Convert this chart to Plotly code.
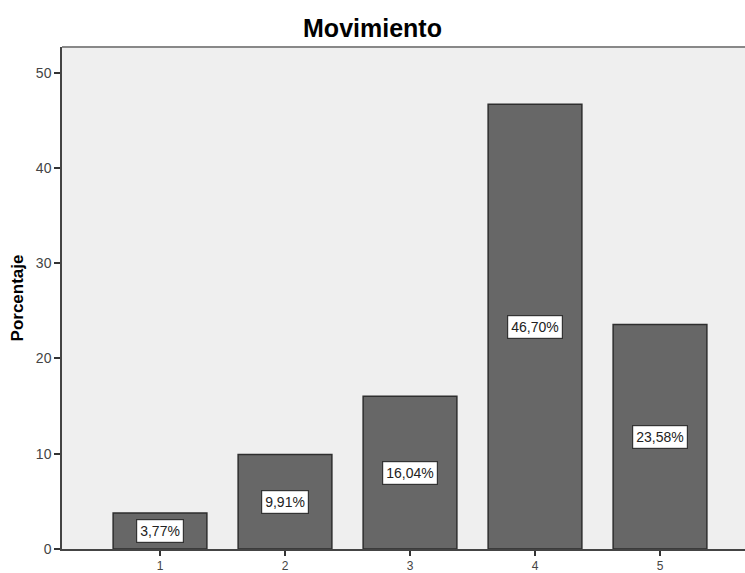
import plotly.graph_objects as go

categories = [1, 2, 3, 4, 5]
percentages = [3.77, 9.91, 16.04, 46.70, 23.58]
y_ticks = [0, 10, 20, 30, 40, 50]

labels = [f"{v:.2f}%".replace(".", ",") for v in percentages]

fig = go.Figure()
fig.add_trace(go.Bar(
    x=categories,
    y=percentages,
    width=0.75,
    marker=dict(color="#676767", line=dict(color="#2e2e2e", width=1.5)),
    hoverinfo="skip",
))

for c, v, t in zip(categories, percentages, labels):
    fig.add_annotation(
        x=c, y=v / 2, text=t, showarrow=False,
        font=dict(family="Arial, Liberation Sans", size=14, color="#222"),
        bgcolor="white", bordercolor="#333", borderwidth=1.2, borderpad=3,
        xanchor="center", yanchor="middle",
    )

fig.update_layout(
    width=745, height=573,
    margin=dict(l=62, r=0, t=47, b=24),
    paper_bgcolor="white",
    plot_bgcolor="#efefef",
    showlegend=False,
    title=dict(
        text="<b>Movimiento</b>", x=0.5, xanchor="center", y=0.951, yanchor="middle",
        font=dict(family="Arial, Liberation Sans", size=25, color="black"),
    ),
    font=dict(family="Arial, Liberation Sans", color="#333"),
)

fig.update_xaxes(
    range=[0.216, 5.68],
    tickvals=categories,
    ticktext=[str(c) for c in categories],
    ticks="outside", ticklen=5, tickwidth=1.5, tickcolor="#333",
    tickfont=dict(size=12, color="#444"),
    showgrid=False, zeroline=False, automargin=False,
    showline=True, linecolor="#444", linewidth=1.5,
)

fig.update_yaxes(
    range=[0, 52.7],
    tickvals=y_ticks,
    ticks="outside", ticklen=6, tickwidth=1.5, tickcolor="#333",
    tickfont=dict(size=14, color="#444"),
    showgrid=False, zeroline=False, automargin=False,
    showline=True, linecolor="#444", linewidth=1.5,
    title=dict(text="<b>Porcentaje</b>", font=dict(size=17, color="black"), standoff=8),
)

# top border of the plotting frame
fig.add_shape(type="line", xref="paper", yref="paper", x0=0, x1=1, y0=1, y1=1,
              line=dict(color="#888", width=2))

fig.write_html("out.html")
